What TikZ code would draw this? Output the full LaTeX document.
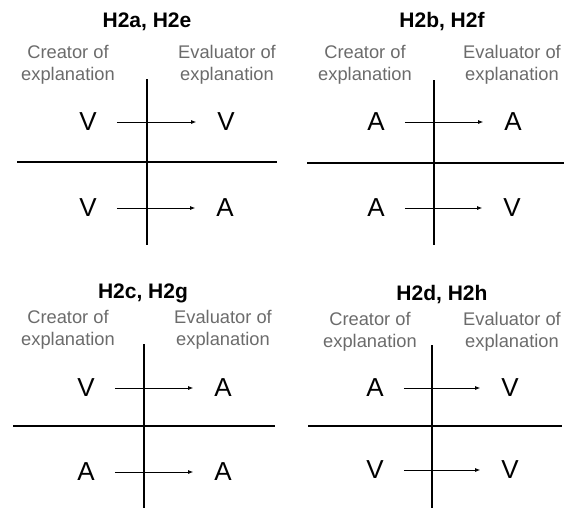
\documentclass[tikz,border=0pt]{standalone}
\usepackage{fontspec}
\setmainfont{Liberation Sans}
\usetikzlibrary{arrows.meta}
\definecolor{labgray}{HTML}{6B6B6B}
\begin{document}
\begin{tikzpicture}[x=1pt,y=-1pt,
  ttl/.style={font=\fontsize{21}{24}\selectfont\bfseries, inner sep=0},
  lab/.style={font=\fontsize{18.3}{22}\selectfont, text=labgray, align=center, inner sep=0},
  let/.style={font=\fontsize{26}{29}\selectfont, inner sep=0},
  axis/.style={line width=2pt},
  arr/.style={line width=0.8pt, -{Latex[length=5pt,width=4pt]}, shorten <=20pt, shorten >=21pt}]
\useasboundingbox (0,0) rectangle (565,509);

% ---------- top left ----------
\node[ttl] (t1) at (147,22) {H2a, H2e};
\node[lab] (c1) at (68,65) {Creator of\\explanation};
\node[lab] (e1) at (227,65) {Evaluator of\\explanation};
\draw[axis] (147,79) -- (147,245);
\draw[axis] (17,162) -- (277,162);
\node[let] (a1) at (88,122) {V};
\node[let] (b1) at (226,122) {V};
\node[let] (p1) at (88,208) {V};
\node[let] (q1) at (225,208) {A};
\draw[arr] (a1) -- (b1);
\draw[arr] (p1) -- (q1);

% ---------- top right ----------
\node[ttl] (t2) at (442,22) {H2b, H2f};
\node[lab] (c2) at (365,65) {Creator of\\explanation};
\node[lab] (e2) at (512,65) {Evaluator of\\explanation};
\draw[axis] (434,80) -- (434,245);
\draw[axis] (307,163) -- (564,163);
\node[let] (a2) at (376,122) {A};
\node[let] (b2) at (513,122) {A};
\node[let] (p2) at (376,208) {A};
\node[let] (q2) at (512,208) {V};
\draw[arr] (a2) -- (b2);
\draw[arr] (p2) -- (q2);

% ---------- bottom left ----------
\node[ttl] (t3) at (143,293) {H2c, H2g};
\node[lab] (c3) at (68,330) {Creator of\\explanation};
\node[lab] (e3) at (223,330) {Evaluator of\\explanation};
\draw[axis] (144,344) -- (144,508);
\draw[axis] (13,426) -- (275,426);
\node[let] (a3) at (86,388) {V};
\node[let] (b3) at (223,388) {A};
\node[let] (p3) at (86,472) {A};
\node[let] (q3) at (223,472) {A};
\draw[arr] (a3) -- (b3);
\draw[arr] (p3) -- (q3);

% ---------- bottom right ----------
\node[ttl] (t4) at (442,295) {H2d, H2h};
\node[lab] (c4) at (370,332) {Creator of\\explanation};
\node[lab] (e4) at (512,332) {Evaluator of\\explanation};
\draw[axis] (432,345) -- (432,508);
\draw[axis] (308,426) -- (562,426);
\node[let] (a4) at (375,388) {A};
\node[let] (b4) at (510,388) {V};
\node[let] (p4) at (375,470) {V};
\node[let] (q4) at (510,470) {V};
\draw[arr] (a4) -- (b4);
\draw[arr] (p4) -- (q4);
\end{tikzpicture}
\end{document}
